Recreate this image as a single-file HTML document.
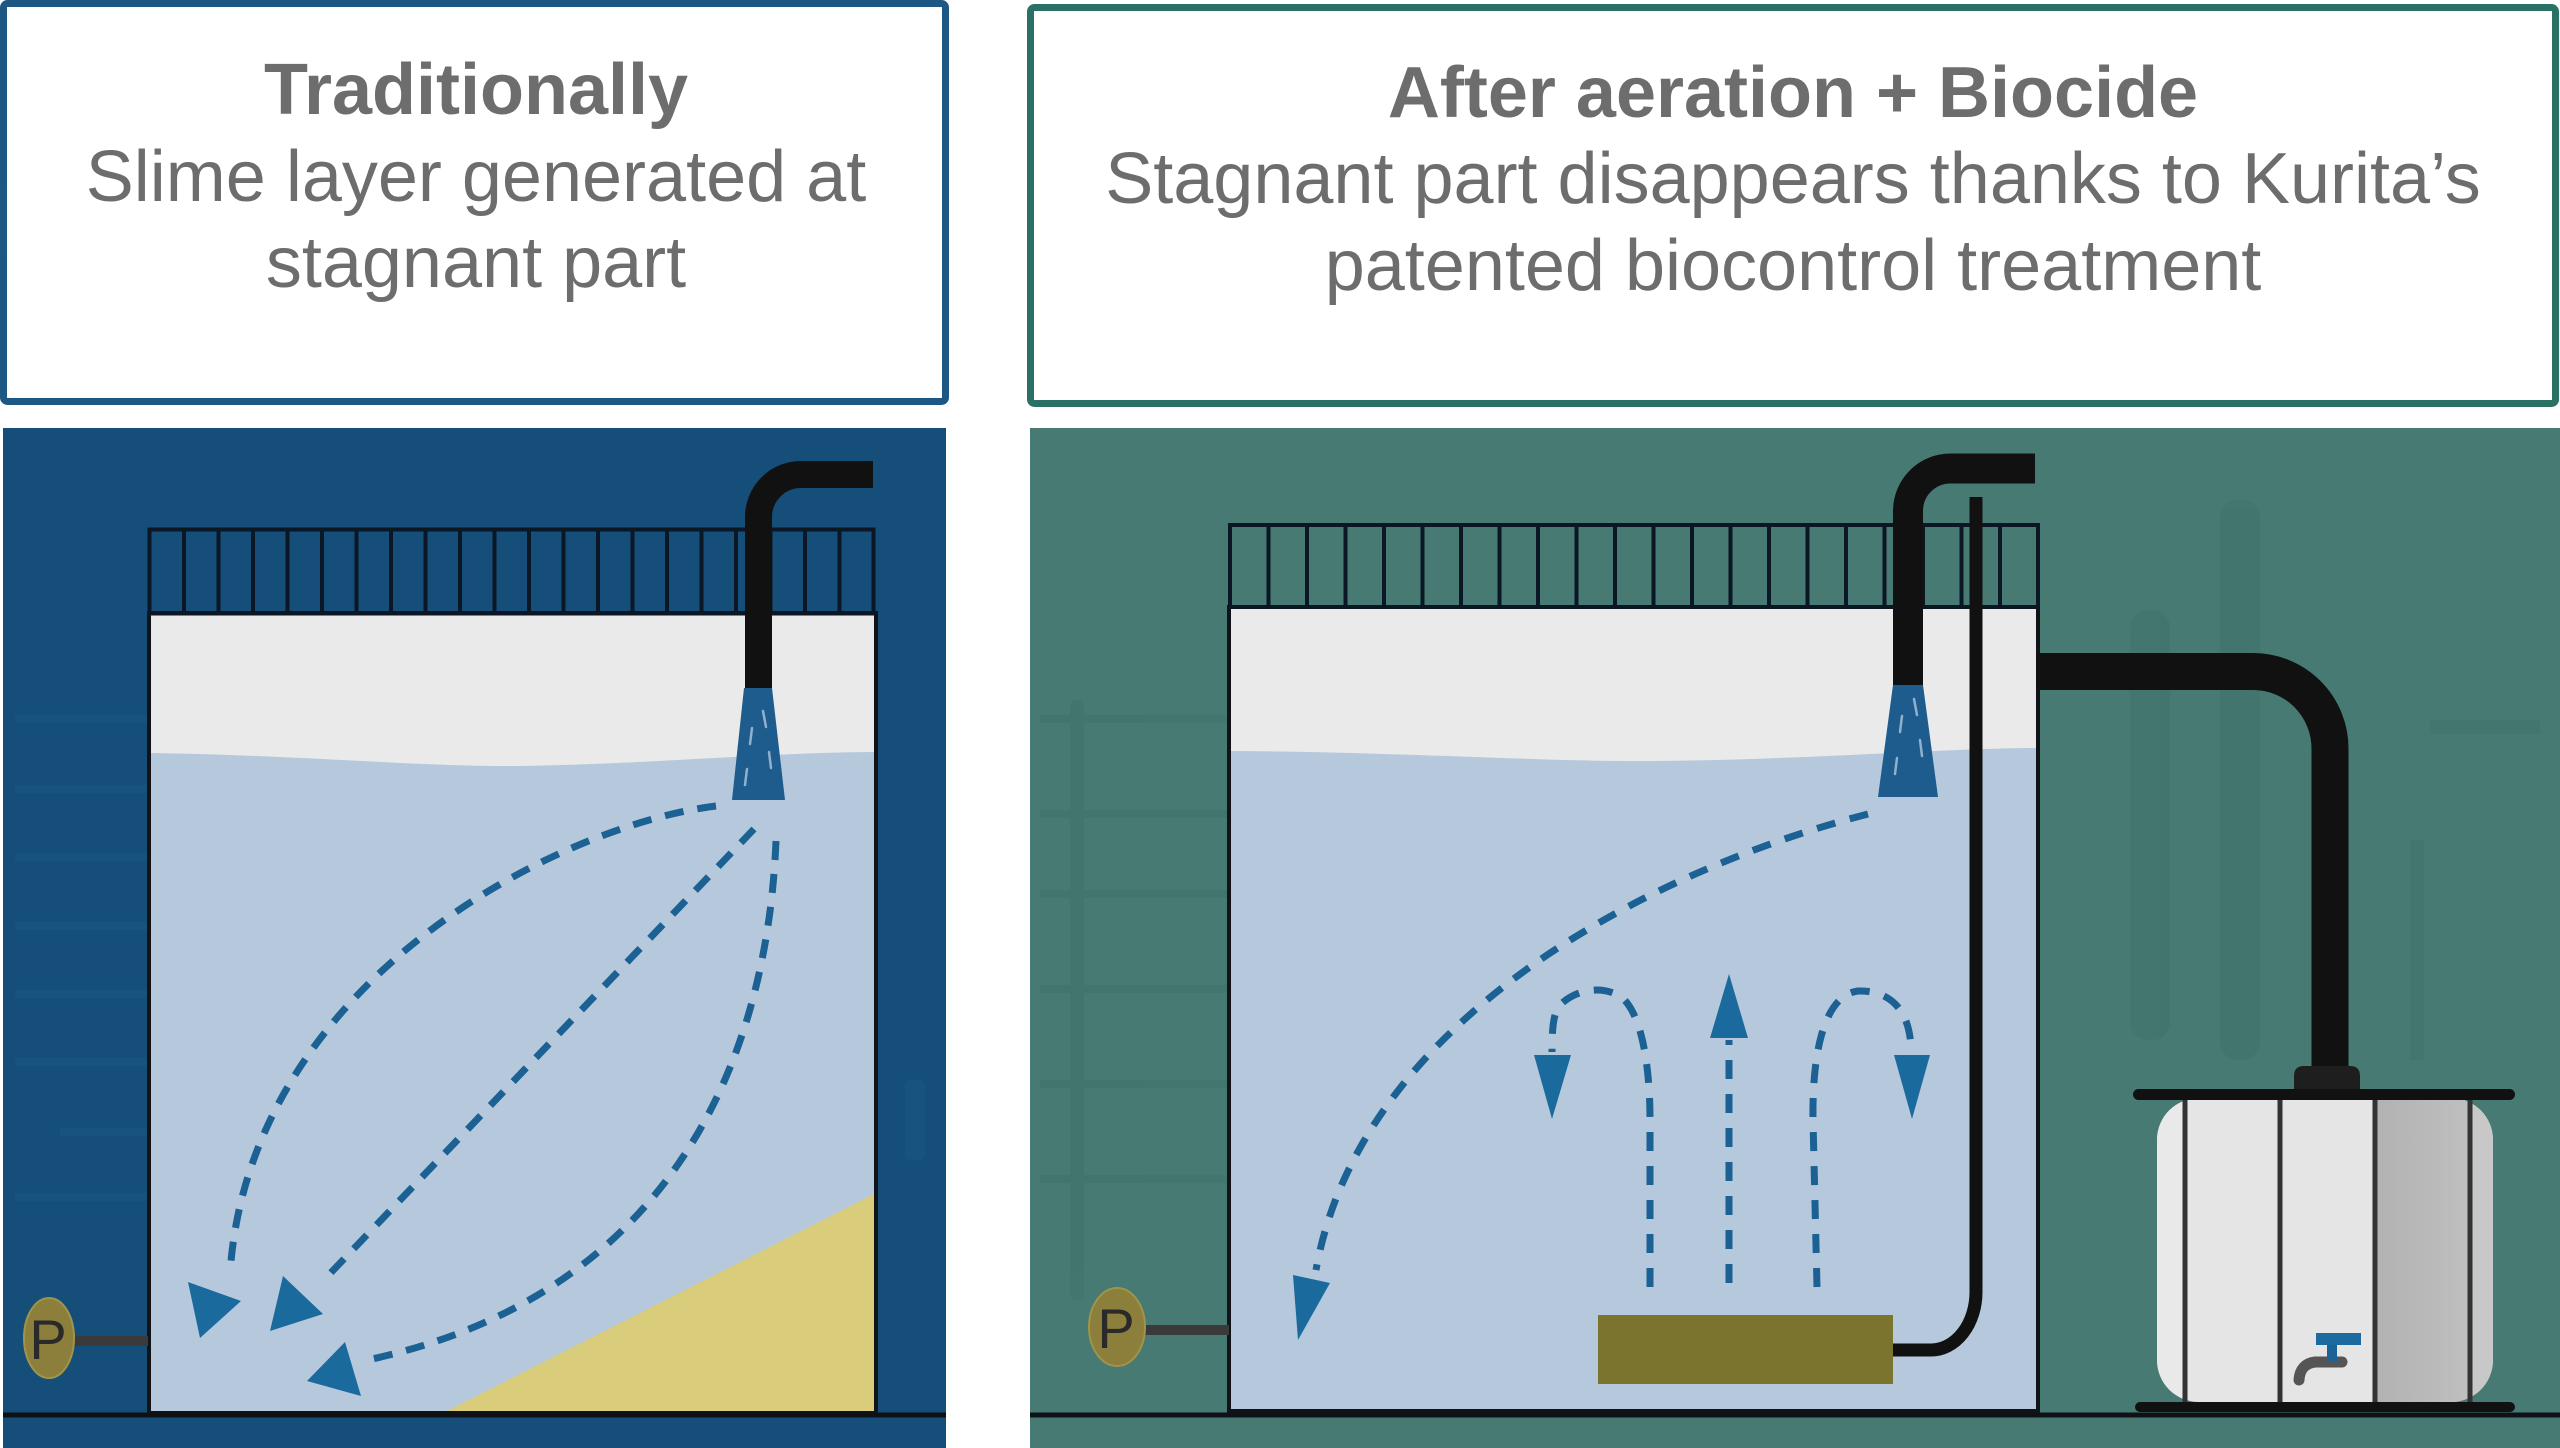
<!DOCTYPE html>
<html>
<head>
<meta charset="utf-8">
<style>
html,body{margin:0;padding:0;background:#ffffff;}
body{width:2560px;height:1448px;overflow:hidden;}
svg{display:block;}
text{font-family:"Liberation Sans",Arial,sans-serif;fill:#6d6d6d;}
</style>
</head>
<body>
<svg width="2560" height="1448" viewBox="0 0 2560 1448" xmlns="http://www.w3.org/2000/svg">
  <rect x="0" y="0" width="2560" height="1448" fill="#ffffff"/>

  <!-- Header boxes -->
  <rect x="3.5" y="3.5" width="942" height="398" rx="4" fill="#ffffff" stroke="#1d5784" stroke-width="7"/>
  <rect x="1030.5" y="7.5" width="1525" height="396" rx="4" fill="#ffffff" stroke="#2b7064" stroke-width="7"/>

  <text x="476" y="114" font-size="72" font-weight="bold" text-anchor="middle">Traditionally</text>
  <text x="476" y="201" font-size="72" text-anchor="middle">Slime layer generated at</text>
  <text x="476" y="287" font-size="72" text-anchor="middle">stagnant part</text>

  <text x="1793" y="117" font-size="72" font-weight="bold" text-anchor="middle">After aeration + Biocide</text>
  <text x="1793" y="203" font-size="72" text-anchor="middle">Stagnant part disappears thanks to Kurita’s</text>
  <text x="1793" y="290" font-size="72" text-anchor="middle">patented biocontrol treatment</text>

  <!-- ================= LEFT PANEL ================= -->
  <rect x="3" y="428" width="943" height="1020" fill="#144e79"/>
  <g fill="#19567f" opacity="0.7">
    <rect x="15" y="715" width="132" height="8"/>
    <rect x="15" y="785" width="132" height="8"/>
    <rect x="15" y="853" width="132" height="8"/>
    <rect x="15" y="922" width="132" height="8"/>
    <rect x="15" y="990" width="132" height="8"/>
    <rect x="15" y="1058" width="132" height="8"/>
    <rect x="60" y="1128" width="87" height="8"/>
    <rect x="15" y="1193" width="132" height="8"/>
    <rect x="905" y="1080" width="20" height="80" rx="6"/>
  </g>

  <!-- tank -->
  <rect x="149" y="613" width="727" height="800" fill="#eaeaea"/>
  <path d="M149,753 C300,755 420,767 520,766 C650,764 780,752 876,752 L876,1413 L149,1413 Z" fill="#b6c8dc"/>
  <polygon points="443,1413 876,1193 876,1413" fill="#d9cc7a"/>
  <rect x="149" y="613" width="727" height="800" fill="none" stroke="#101418" stroke-width="4"/>

  <!-- railing -->
  <g stroke="#0b1724" stroke-width="4" fill="none">
    <rect x="149.5" y="529.5" width="724" height="84"/>
    <path d="M184,530V613 M218.5,530V613 M253,530V613 M287.5,530V613 M322,530V613 M356.5,530V613 M391,530V613 M425.5,530V613 M460,530V613 M494.5,530V613 M529,530V613 M563.5,530V613 M598,530V613 M632.5,530V613 M667,530V613 M701.5,530V613 M736,530V613 M770.5,530V613 M805,530V613 M839.5,530V613"/>
  </g>

  <!-- pipe -->
  <path d="M758.5,690 L758.5,517 A42.5,42.5 0 0 1 801,474.5 L873,474.5" fill="none" stroke="#111111" stroke-width="27"/>
  <!-- nozzle -->
  <polygon points="744,688 772,688 785,800 732,800" fill="#1d5c8d"/>
  <g stroke="#8fb0cf" stroke-width="2.5" stroke-linecap="round">
    <line x1="763" y1="711" x2="766" y2="727"/>
    <line x1="752" y1="728" x2="750" y2="744"/>
    <line x1="769" y1="752" x2="771" y2="768"/>
    <line x1="747" y1="769" x2="745" y2="785"/>
  </g>

  <!-- dashed arrows left -->
  <g fill="none" stroke="#1b6193" stroke-width="7" stroke-dasharray="19 14">
    <path d="M716,806 C560,825 250,980 230,1273"/>
    <path d="M754,829 L322,1282"/>
    <path d="M776,841 C765,1100 640,1300 372,1359"/>
  </g>
  <g fill="#1a6a9e">
    <polygon points="188,1282 241,1301 200,1338"/>
    <polygon points="283,1276 323,1314 270,1331"/>
    <polygon points="345,1342 361,1396 307,1381"/>
  </g>

  <!-- P gauge left -->
  <line x1="72" y1="1341" x2="148" y2="1341" stroke="#3a3a3a" stroke-width="10"/>
  <ellipse cx="49" cy="1338" rx="25" ry="40" fill="#8c7f3b" stroke="#a0944a" stroke-width="2"/>
  <text x="48" y="1359" font-size="56" text-anchor="middle" style="fill:#2a2a2a">P</text>

  <!-- floor left -->
  <line x1="3" y1="1415" x2="946" y2="1415" stroke="#0e1216" stroke-width="5"/>

  <!-- ================= RIGHT PANEL ================= -->
  <rect x="1030" y="428" width="1530" height="1020" fill="#467a72"/>
  <g fill="#42756d" opacity="0.8">
    <rect x="1040" y="715" width="188" height="8"/>
    <rect x="1040" y="810" width="188" height="8"/>
    <rect x="1040" y="890" width="188" height="8"/>
    <rect x="1040" y="985" width="188" height="8"/>
    <rect x="1040" y="1080" width="188" height="8"/>
    <rect x="1040" y="1175" width="188" height="8"/>
    <rect x="1070" y="700" width="14" height="600" rx="6"/>
    <rect x="2130" y="610" width="40" height="430" rx="18"/>
    <rect x="2220" y="500" width="40" height="560" rx="18"/>
    <rect x="2430" y="720" width="110" height="14"/>
    <rect x="2410" y="840" width="14" height="220"/>
  </g>

  <!-- tank -->
  <rect x="1229" y="607" width="809" height="804" fill="#eaeaea"/>
  <path d="M1229,751 C1400,752 1550,762 1652,761 C1800,760 1950,748 2038,748 L2038,1411 L1229,1411 Z" fill="#b6c8dc"/>
  <rect x="1229" y="607" width="809" height="804" fill="none" stroke="#101418" stroke-width="4"/>

  <!-- railing -->
  <g stroke="#0b1724" stroke-width="4" fill="none">
    <rect x="1230" y="525" width="808" height="82"/>
    <path d="M1268.5,525V607 M1307,525V607 M1345.5,525V607 M1384,525V607 M1422.5,525V607 M1461,525V607 M1499.5,525V607 M1538,525V607 M1576.5,525V607 M1615,525V607 M1653.5,525V607 M1692,525V607 M1730.5,525V607 M1769,525V607 M1807.5,525V607 M1846,525V607 M1884.5,525V607 M1923,525V607 M1961.5,525V607 M2000,525V607"/>
  </g>

  <!-- big side pipe to IBC -->
  <path d="M2036,671.5 L2253,671.5 A77,77 0 0 1 2330,748.5 L2330,1072" fill="none" stroke="#111111" stroke-width="37"/>

  <!-- inlet pipe -->
  <path d="M1908,687 L1908,511 A42.5,42.5 0 0 1 1950.5,468.5 L2035,468.5" fill="none" stroke="#111111" stroke-width="30"/>
  <!-- nozzle -->
  <polygon points="1893,685 1923,685 1938,797 1878,797" fill="#1d5c8d"/>
  <g stroke="#8fb0cf" stroke-width="2.5" stroke-linecap="round">
    <line x1="1914" y1="699" x2="1917" y2="715"/>
    <line x1="1902" y1="716" x2="1900" y2="732"/>
    <line x1="1920" y1="740" x2="1922" y2="756"/>
    <line x1="1897" y1="758" x2="1895" y2="774"/>
  </g>

  <!-- thin air pipe -->
  <path d="M1976,497 L1976,1292 A45,58 0 0 1 1931,1350 L1890,1350" fill="none" stroke="#111111" stroke-width="13"/>

  <!-- diffuser -->
  <rect x="1598" y="1315" width="295" height="69" fill="#7b742e"/>

  <!-- dashed arrows right -->
  <g fill="none" stroke="#1b6193" stroke-width="7" stroke-dasharray="19 15">
    <path d="M1868,814 C1650,870 1360,1020 1316,1270"/>
    <path d="M1650,1287 L1650,1120 C1650,1060 1640,1010 1620,996 C1600,985 1575,990 1560,1005 C1553,1013 1552,1030 1552,1052"/>
    <path d="M1729,1283 L1729,1040"/>
    <path d="M1817,1287 L1813,1120 C1812,1050 1825,995 1858,991 C1890,990 1911,1010 1911,1052"/>
  </g>
  <g fill="#1a6a9e">
    <polygon points="1293,1275 1330,1283 1298,1340"/>
    <polygon points="1534,1055 1571,1055 1552,1119"/>
    <polygon points="1729,974 1710,1038 1748,1038"/>
    <polygon points="1894,1055 1930,1055 1912,1119"/>
  </g>

  <!-- P gauge right -->
  <line x1="1140" y1="1330" x2="1229" y2="1330" stroke="#3a3a3a" stroke-width="10"/>
  <ellipse cx="1117" cy="1327" rx="28" ry="39" fill="#8c7f3b" stroke="#a0944a" stroke-width="2"/>
  <text x="1116" y="1348" font-size="56" text-anchor="middle" style="fill:#2a2a2a">P</text>

  <!-- IBC tote -->
  <defs>
    <linearGradient id="gr" x1="0" x2="1" y1="0" y2="0">
      <stop offset="0" stop-color="#b2b2b2"/>
      <stop offset="1" stop-color="#bfbfbf"/>
    </linearGradient>
    <clipPath id="ibcclip">
      <rect x="2157" y="1098" width="336" height="304" rx="42"/>
    </clipPath>
  </defs>
  <g clip-path="url(#ibcclip)">
    <rect x="2157" y="1098" width="336" height="304" fill="#e5e5e5"/>
    <rect x="2157" y="1098" width="28" height="304" fill="#e9e9e9"/>
    <rect x="2375" y="1098" width="95" height="304" fill="url(#gr)"/>
    <rect x="2470" y="1098" width="23" height="304" fill="#c8c8c8"/>
  </g>
  <g stroke="#333333" stroke-width="5">
    <line x1="2185" y1="1098" x2="2185" y2="1404"/>
    <line x1="2280" y1="1098" x2="2280" y2="1404"/>
    <line x1="2375" y1="1098" x2="2375" y2="1404"/>
    <line x1="2470" y1="1098" x2="2470" y2="1404"/>
  </g>
  <path d="M2294,1090 L2294,1076 Q2294,1066 2304,1066 L2350,1066 Q2360,1066 2360,1076 L2360,1090 Z" fill="#1e1e1e"/>
  <rect x="2133" y="1089" width="382" height="11" rx="5.5" fill="#111111"/>
  <rect x="2135" y="1402" width="380" height="10" rx="5" fill="#111111"/>
  <!-- faucet -->
  <path d="M2342,1362 L2315,1362 Q2300,1364 2299,1380" fill="none" stroke="#555555" stroke-width="11" stroke-linecap="round"/>
  <rect x="2327" y="1345" width="10" height="16" fill="#1b6396"/>
  <rect x="2316" y="1333" width="45" height="12" fill="#1b6aa0"/>

  <!-- floor right -->
  <line x1="1030" y1="1415" x2="2560" y2="1415" stroke="#0e1216" stroke-width="5"/>
</svg>
</body>
</html>
